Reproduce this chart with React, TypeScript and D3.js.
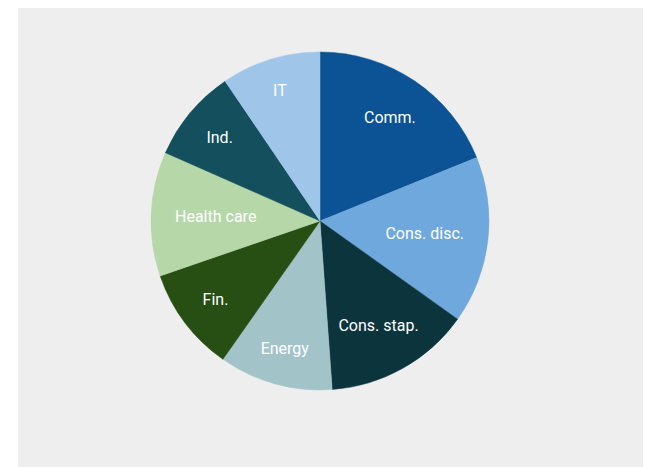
import React, { useEffect, useRef } from "react";
import * as d3 from "d3";

const categories = ["Comm.", "Cons. disc.", "Cons. stap.", "Energy", "Fin.", "Health care", "Ind.", "IT"];
const values = [18.9, 16.0, 14.0, 10.9, 10.0, 11.9, 8.9, 9.5];
const colors = ["#0b5394", "#6fa8dc", "#0c343d", "#a2c4c9", "#274e13", "#b6d7a8", "#134f5c", "#9fc5e8"];

const W = 651;
const H = 467;

export default function App() {
  const ref = useRef<SVGSVGElement | null>(null);

  useEffect(() => {
    const svg = d3.select(ref.current);
    svg.selectAll("*").remove();

    svg.append("rect").attr("x", 18).attr("y", 8).attr("width", 625).attr("height", 459).attr("fill", "#eeeeee");

    const cx = 320;
    const cy = 221;
    const r = 169;

    const data = categories.map((c, i) => ({ name: c, value: values[i], color: colors[i] }));
    const pie = d3.pie<any>().value((d: any) => d.value).sort(null);
    const arcs = pie(data);
    const arc = d3.arc<any>().innerRadius(0).outerRadius(r);

    const g = svg.append("g").attr("transform", `translate(${cx},${cy})`);
    g.selectAll("path")
      .data(arcs)
      .join("path")
      .attr("d", arc as any)
      .attr("fill", (d: any) => d.data.color)
      .attr("stroke", (d: any) => d.data.color)
      .attr("stroke-width", 0.5);

    const labels = g.selectAll("text")
      .data(arcs)
      .join("text")
      .attr("font-family", "Roboto, sans-serif")
      .attr("font-size", 16)
      .attr("fill", "#ffffff")
      .attr("text-anchor", "middle")
      .attr("dominant-baseline", "central")
      .text((d: any) => d.data.name);

    labels.each(function (d: any) {
      const el = this as SVGTextElement;
      const w = el.getComputedTextLength();
      const h = 14;
      const a = (d.startAngle + d.endAngle) / 2;
      const sx = Math.sin(a);
      const sy = -Math.cos(a);
      const outer = r * 0.86;
      const corner = (w / 2) * Math.abs(sx) + (h / 2) * Math.abs(sy);
      const dist = outer - corner;
      d3.select(el).attr("x", dist * sx).attr("y", dist * sy);
    });
  }, []);

  return (
    <svg
      ref={ref}
      width={W}
      height={H}
      style={{ position: "absolute", left: 0, top: 0, display: "block" }}
    />
  );
}
